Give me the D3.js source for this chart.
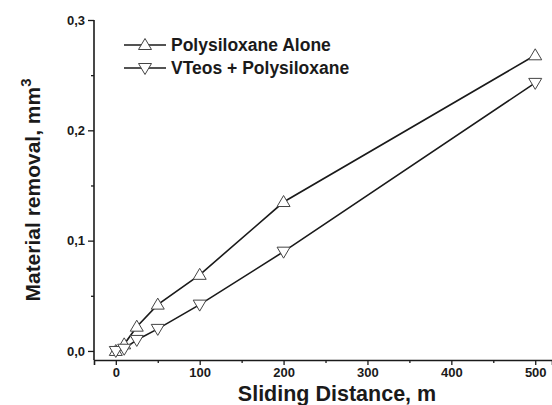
<!DOCTYPE html>
<html>
<head>
<meta charset="utf-8">
<script src="https://cdn.jsdelivr.net/npm/d3@7"></script>
<style>
  html, body { margin: 0; padding: 0; background: #fff; }
  svg { display: block; font-family: "Liberation Sans", Arial, sans-serif; font-weight: bold; }
</style>
</head>
<body>
<svg id="chart" width="552" height="405"></svg>
<script>
// Données
const distances = [0, 10, 25, 50, 100, 200, 500];
const polyAlone = [0, 0.006, 0.022, 0.042, 0.069, 0.135, 0.268];
const vteosPoly = [0, 0.002, 0.010, 0.020, 0.042, 0.090, 0.243];
const seriesNames = ["Polysiloxane Alone", "VTeos + Polysiloxane"];
const xTicks = [0, 100, 200, 300, 400, 500];
const xMinor = [50, 150, 250, 350, 450];
const yTicks = [0, 0.1, 0.2, 0.3];
const yMinor = [0.05, 0.15, 0.25];

const svg = d3.select("#chart");

// Échelles
const x = d3.scaleLinear().domain([-26, 520]).range([94, 552]);
const y = d3.scaleLinear().domain([-0.0082, 0.3]).range([360, 20]);
const fmt = d => d3.format(".1f")(d).replace(".", ",");

// Axe Y
const gy = svg.append("g").attr("transform", "translate(94,0)");
gy.call(d3.axisLeft(y).tickValues(yTicks).tickFormat(fmt).tickSize(6).tickPadding(3));
gy.append("g").call(d3.axisLeft(y).tickValues(yMinor).tickFormat("").tickSize(3))
  .select(".domain").remove();
gy.select(".domain").attr("d", `M0,${y(0.3)}V${y.range()[0]}`);

// Axe X
const gx = svg.append("g").attr("transform", "translate(0,360)");
gx.call(d3.axisBottom(x).tickValues(xTicks).tickSize(5).tickPadding(3));
gx.append("g").call(d3.axisBottom(x).tickValues(xMinor).tickFormat("").tickSize(3))
  .select(".domain").remove();

svg.selectAll(".domain").attr("stroke", "#1a1a1a").attr("stroke-width", 1.6);
svg.selectAll(".tick line").attr("stroke", "#1a1a1a").attr("stroke-width", 1.3);
svg.selectAll(".tick text").attr("fill", "#1a1a1a").style("font-size", "13px")
  .style("font-family", "'Liberation Sans', Arial, sans-serif").style("font-weight", "bold");

// Titres
svg.append("text").attr("x", 337).attr("y", 401).attr("text-anchor", "middle")
  .style("font-size", "21.5px").attr("fill", "#1a1a1a").text("Sliding Distance, m");

const yt = svg.append("text").attr("transform", "translate(40,190) rotate(-90)")
  .attr("text-anchor", "middle").style("font-size", "21px").attr("fill", "#1a1a1a");
yt.append("tspan").text("Material removal, mm");
yt.append("tspan").attr("dy", -9).style("font-size", "15px").text("3");

// Marqueurs
const triUp = "M0,-6.5L6.5,4.5L-6.5,4.5Z";
const triDown = "M0,6.5L6.5,-4.5L-6.5,-4.5Z";

const line = d3.line().x(d => x(d[0])).y(d => y(d[1]));
const series = [
  { name: seriesNames[0], values: polyAlone, marker: triUp },
  { name: seriesNames[1], values: vteosPoly, marker: triDown }
];

series.forEach(s => {
  const pts = distances.map((d, i) => [d, s.values[i]]);
  svg.append("path").datum(pts).attr("d", line)
    .attr("fill", "none").attr("stroke", "#1a1a1a").attr("stroke-width", 1.6);
  svg.append("g").selectAll("path").data(pts).join("path")
    .attr("transform", d => `translate(${x(d[0])},${y(d[1])})`)
    .attr("d", s.marker).attr("fill", "#fff").attr("stroke", "#444").attr("stroke-width", 1);
});

// Légende
const leg = svg.append("g");
series.forEach((s, i) => {
  const ly = 45 + i * 23;
  leg.append("line").attr("x1", 124).attr("x2", 166).attr("y1", ly).attr("y2", ly)
    .attr("stroke", "#1a1a1a").attr("stroke-width", 1.6);
  leg.append("path").attr("transform", `translate(145,${ly})`).attr("d", s.marker)
    .attr("fill", "#fff").attr("stroke", "#444").attr("stroke-width", 1);
  leg.append("text").attr("x", 171).attr("y", ly + 6).style("font-size", "17.5px")
    .attr("fill", "#1a1a1a").text(s.name);
});
</script>
</body>
</html>
